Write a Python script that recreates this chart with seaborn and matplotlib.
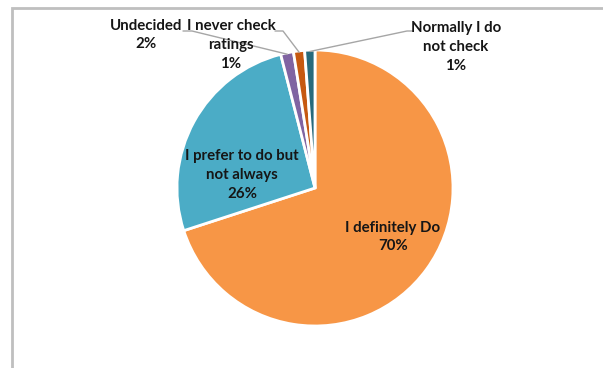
import numpy as np
import matplotlib
matplotlib.use("Agg")
import matplotlib.pyplot as plt
import seaborn as sns
from matplotlib.patches import Rectangle

sns.set_theme(style="white")
plt.rcParams['font.family'] = ['Lato', 'DejaVu Sans']

# data (clockwise from 12 o'clock)
categories = ["I definitely Do", "I prefer to do but\nnot always", "Undecided",
              "I never check\nratings", "Normally I do\nnot check"]
values = [70.0, 26.0, 1.5, 1.3, 1.2]
pct_labels = ["70%", "26%", "2%", "1%", "1%"]
colors = ["#F79646", "#4BACC6", "#8064A2", "#C65911", "#276A7C"]

W, H = 603, 368
fig = plt.figure(figsize=(W / 100, H / 100), dpi=100)
fig.patch.set_facecolor("white")

# outer chart frame (partially visible)
fig.patches.append(Rectangle((12 / W, -0.1), 1.2, (H - 8) / H + 0.1,
                             transform=fig.transFigure, fill=False,
                             edgecolor="#BFBFBF", linewidth=2))

cx, cy, r = 315, 188, 138
ax = fig.add_axes([(cx - r) / W, (H - cy - r) / H, 2 * r / W, 2 * r / H])
wedges, _ = ax.pie(values, colors=colors, startangle=90, counterclock=False,
                   radius=1.0, wedgeprops=dict(edgecolor="white", linewidth=2))
ax.set_xlim(-1, 1)
ax.set_ylim(-1, 1)
ax.set_axis_off()

def px(x, y):
    return (x - cx) / r, (cy - y) / r

tkw = dict(ha="center", va="center", fontsize=10.8, fontweight="bold",
           color="#161616", linespacing=1.42, clip_on=False)

# inside labels
x, y = px(242, 175)
ax.text(x, y, categories[1] + "\n" + pct_labels[1], **tkw)
x, y = px(393, 237)
ax.text(x, y, categories[0] + "\n" + pct_labels[0], **tkw)

# outside labels
x, y = px(146, 35)
ax.text(x, y, categories[2] + "\n" + pct_labels[2], **tkw)
x, y = px(231, 45)
ax.text(x, y, categories[3] + "\n" + pct_labels[3], **tkw)
x, y = px(456, 47)
ax.text(x, y, categories[4] + "\n" + pct_labels[4], **tkw)

# leader lines
def mid(w, rr=0.99):
    a = np.deg2rad((w.theta1 + w.theta2) / 2)
    return rr * np.cos(a), rr * np.sin(a)

leaders = [
    (2, [(183, 31), (192, 31)]),
    (3, [(275, 31), (283, 31)]),
    (4, [(413, 31), (407, 31)]),
]
for idx, pts in leaders:
    xs = [px(*p)[0] for p in pts]
    ys = [px(*p)[1] for p in pts]
    ex, ey = mid(wedges[idx])
    xs.append(ex)
    ys.append(ey)
    ax.plot(xs, ys, color="#A6A6A6", linewidth=1, clip_on=False)

fig.savefig("out.png", dpi=100, facecolor="white")
